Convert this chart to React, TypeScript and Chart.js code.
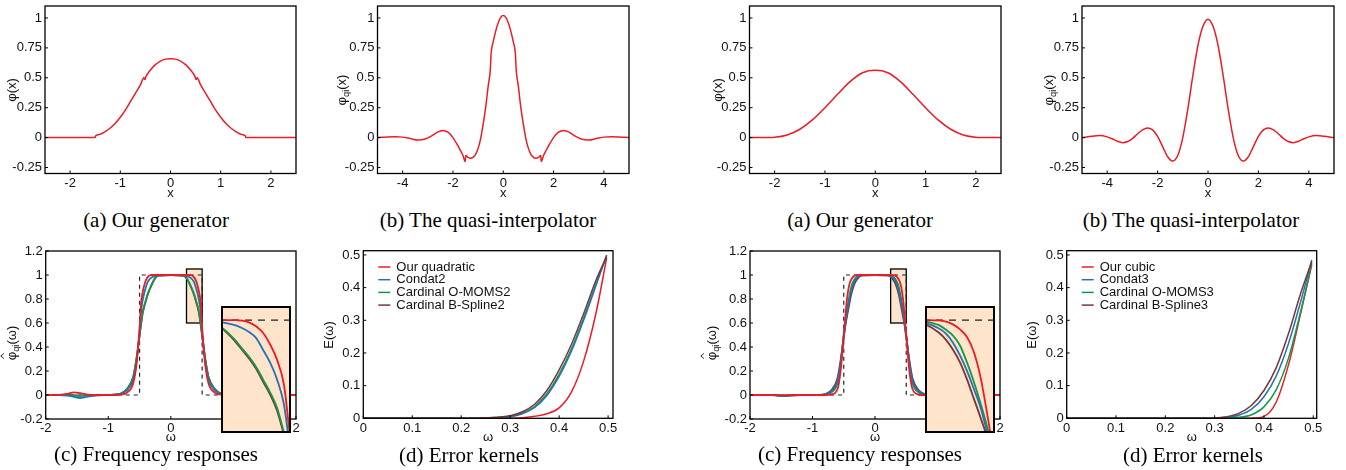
import React, { useEffect, useRef } from 'react';
import { Chart, registerables } from 'chart.js';

Chart.register(...registerables);

// ---------------- data ----------------
// (a) generators
const genQuadX = [-2.5, -1.5, -1.49, -1.4, -1.3, -1.2, -1.1, -1, -0.9, -0.8, -0.7, -0.6, -0.53, -0.51, -0.49, -0.4, -0.3, -0.2, -0.1, 0, 0.1, 0.2, 0.3, 0.4, 0.49, 0.51, 0.53, 0.6, 0.7, 0.8, 0.9, 1, 1.1, 1.2, 1.3, 1.4, 1.49, 1.5, 2.5];
const genQuadY = [0, 0, 0.015, 0.028, 0.05, 0.08, 0.12, 0.17, 0.23, 0.3, 0.37, 0.44, 0.5, 0.485, 0.51, 0.565, 0.61, 0.64, 0.656, 0.66, 0.656, 0.64, 0.61, 0.565, 0.51, 0.485, 0.5, 0.44, 0.37, 0.3, 0.23, 0.17, 0.12, 0.08, 0.05, 0.028, 0.015, 0, 0];

const genCubicX = [-2.5, -2.25, -2, -1.75, -1.5, -1.25, -1, -0.75, -0.5, -0.25, 0, 0.25, 0.5, 0.75, 1, 1.25, 1.5, 1.75, 2, 2.25, 2.5];
const genCubicY = [0, 0, 0.003, 0.022, 0.07, 0.148, 0.25, 0.362, 0.468, 0.542, 0.562, 0.542, 0.468, 0.362, 0.25, 0.148, 0.07, 0.022, 0.003, 0, 0];

// (b) quasi-interpolators
const qiQuadX = [-5, -4.6, -4.3, -4, -3.7, -3.4, -3.1, -2.8, -2.6, -2.5, -2.4, -2.2, -2, -1.8, -1.6, -1.51, -1.49, -1.4, -1.3, -1.2, -1.1, -1, -0.9, -0.8, -0.7, -0.6, -0.51, -0.49, -0.4, -0.3, -0.2, -0.1, 0, 0.1, 0.2, 0.3, 0.4, 0.49, 0.51, 0.6, 0.7, 0.8, 0.9, 1, 1.1, 1.2, 1.3, 1.4, 1.49, 1.51, 1.6, 1.8, 2, 2.2, 2.4, 2.5, 2.6, 2.8, 3.1, 3.4, 3.7, 4, 4.3, 4.6, 5];
const qiQuadY = [0, 0.006, 0.008, 0.004, -0.008, -0.02, -0.012, 0.02, 0.048, 0.055, 0.06, 0.045, 0, -0.07, -0.15, -0.2, -0.15, -0.165, -0.172, -0.165, -0.14, -0.09, -0.01, 0.11, 0.25, 0.43, 0.58, 0.68, 0.8, 0.89, 0.96, 1.005, 1.02, 1.005, 0.96, 0.89, 0.8, 0.68, 0.58, 0.43, 0.25, 0.11, -0.01, -0.09, -0.14, -0.165, -0.172, -0.165, -0.15, -0.2, -0.15, -0.07, 0, 0.045, 0.06, 0.055, 0.048, 0.02, -0.012, -0.02, -0.008, 0.004, 0.008, 0.006, 0];

const qiCubicX = [-5, -4.6, -4.3, -4, -3.8, -3.6, -3.4, -3.2, -3, -2.8, -2.6, -2.4, -2.2, -2, -1.8, -1.6, -1.4, -1.2, -1, -0.8, -0.6, -0.4, -0.2, 0, 0.2, 0.4, 0.6, 0.8, 1, 1.2, 1.4, 1.6, 1.8, 2, 2.2, 2.4, 2.6, 2.8, 3, 3.2, 3.4, 3.6, 3.8, 4, 4.3, 4.6, 5];
const qiCubicY = [0, 0.011, 0.017, 0.006, -0.01, -0.03, -0.042, -0.035, -0.008, 0.03, 0.065, 0.08, 0.065, 0.01, -0.075, -0.16, -0.195, -0.15, 0, 0.24, 0.52, 0.77, 0.93, 0.99, 0.93, 0.77, 0.52, 0.24, 0, -0.15, -0.195, -0.16, -0.075, 0.01, 0.065, 0.08, 0.065, 0.03, -0.008, -0.035, -0.042, -0.03, -0.01, 0.006, 0.017, 0.011, 0];

// (c) frequency responses
const freqW = [-2, -1.8, -1.65, -1.55, -1.45, -1.35, -1.2, -1, -0.9, -0.8, -0.7, -0.6, -0.55, -0.5, -0.475, -0.45, -0.425, -0.4, -0.375, -0.35, -0.325, -0.3, -0.25, -0.2, 0, 0.2, 0.25, 0.3, 0.325, 0.35, 0.375, 0.4, 0.425, 0.45, 0.475, 0.5, 0.55, 0.6, 0.7, 0.8, 0.9, 1, 1.2, 1.35, 1.45, 1.55, 1.65, 1.8, 2];
const freqQuadOurs = [0, 0, 0.01, 0.022, 0.015, 0.005, 0, 0, 0, 0.003, 0.02, 0.1, 0.25, 0.56, 0.77, 0.86, 0.915, 0.955, 0.978, 0.992, 0.998, 1, 1, 1, 1, 1, 1, 1, 0.998, 0.992, 0.978, 0.955, 0.915, 0.86, 0.77, 0.56, 0.25, 0.1, 0.02, 0.003, 0, 0, 0, 0.005, 0.015, 0.022, 0.01, 0, 0];
const freqQuadCondat = [0, 0, -0.005, -0.015, -0.025, -0.015, -0.005, 0, 0.002, 0.01, 0.04, 0.13, 0.27, 0.52, 0.7, 0.79, 0.85, 0.895, 0.937, 0.958, 0.972, 0.982, 0.993, 0.998, 1, 0.998, 0.993, 0.982, 0.972, 0.958, 0.937, 0.895, 0.85, 0.79, 0.7, 0.52, 0.27, 0.13, 0.04, 0.01, 0.002, 0, -0.005, -0.015, -0.025, -0.015, -0.005, 0, 0];
const freqQuadOmoms = [0, 0, 0, -0.004, -0.008, -0.004, 0, 0, 0.003, 0.012, 0.05, 0.15, 0.3, 0.5, 0.6, 0.69, 0.745, 0.79, 0.835, 0.87, 0.9, 0.93, 0.976, 0.995, 1, 0.995, 0.976, 0.93, 0.9, 0.87, 0.835, 0.79, 0.745, 0.69, 0.6, 0.5, 0.3, 0.15, 0.05, 0.012, 0.003, 0, 0, -0.004, -0.008, -0.004, 0, 0, 0];
const freqQuadBspline = [0, 0, 0, -0.003, -0.006, -0.003, 0, 0, 0.003, 0.013, 0.052, 0.155, 0.3, 0.49, 0.592, 0.68, 0.737, 0.782, 0.828, 0.864, 0.895, 0.925, 0.973, 0.994, 1, 0.994, 0.973, 0.925, 0.895, 0.864, 0.828, 0.782, 0.737, 0.68, 0.592, 0.49, 0.3, 0.155, 0.052, 0.013, 0.003, 0, 0, -0.003, -0.006, -0.003, 0, 0, 0];

const freqCubicOurs = [0, 0, 0, -0.002, -0.003, 0, 0, 0, 0, 0, 0.004, 0.05, 0.2, 0.5, 0.65, 0.79, 0.885, 0.94, 0.967, 0.985, 0.995, 0.999, 1, 1, 1, 1, 1, 0.999, 0.995, 0.985, 0.967, 0.94, 0.885, 0.79, 0.65, 0.5, 0.2, 0.05, 0.004, 0, 0, 0, 0, 0, -0.003, -0.002, 0, 0, 0];
const freqCubicCondat = [0, 0, 0, -0.004, -0.008, -0.003, 0, 0, 0.001, 0.005, 0.03, 0.12, 0.27, 0.49, 0.59, 0.685, 0.755, 0.82, 0.875, 0.92, 0.952, 0.97, 0.99, 0.998, 1, 0.998, 0.99, 0.97, 0.952, 0.92, 0.875, 0.82, 0.755, 0.685, 0.59, 0.49, 0.27, 0.12, 0.03, 0.005, 0.001, 0, 0, -0.003, -0.008, -0.004, 0, 0, 0];
const freqCubicOmoms = [0, 0, 0, -0.002, -0.004, 0, 0, 0, 0, 0.003, 0.02, 0.1, 0.25, 0.5, 0.61, 0.7, 0.78, 0.85, 0.91, 0.945, 0.966, 0.982, 0.995, 0.999, 1, 0.999, 0.995, 0.982, 0.966, 0.945, 0.91, 0.85, 0.78, 0.7, 0.61, 0.5, 0.25, 0.1, 0.02, 0.003, 0, 0, 0, 0, -0.004, -0.002, 0, 0, 0];
const freqCubicBspline = [0, 0, 0, -0.005, -0.01, -0.004, 0, 0, 0.001, 0.008, 0.04, 0.14, 0.29, 0.48, 0.575, 0.65, 0.72, 0.79, 0.85, 0.895, 0.93, 0.955, 0.985, 0.997, 1, 0.997, 0.985, 0.955, 0.93, 0.895, 0.85, 0.79, 0.72, 0.65, 0.575, 0.48, 0.29, 0.14, 0.04, 0.008, 0.001, 0, 0, -0.004, -0.01, -0.005, 0, 0, 0];

const idealW = [-2, -0.5, -0.5, 0.5, 0.5, 2];
const idealH = [0, 0, 1, 1, 0, 0];

// (d) error kernels
const errW = [0, 0.1, 0.2, 0.25, 0.3, 0.325, 0.35, 0.375, 0.4, 0.425, 0.45, 0.475, 0.497];
const errQuadOurs = [0, 0, 0, 0, 0.0005, 0.002, 0.006, 0.014, 0.032, 0.08, 0.175, 0.32, 0.49];
const errQuadCondat = [0, 0, 0, 0.001, 0.005, 0.014, 0.033, 0.07, 0.128, 0.205, 0.3, 0.405, 0.5];
const errQuadOmoms = [0, 0, 0, 0.001, 0.006, 0.016, 0.036, 0.075, 0.135, 0.212, 0.307, 0.41, 0.498];
const errQuadBspline = [0, 0, 0, 0.002, 0.008, 0.02, 0.043, 0.085, 0.148, 0.226, 0.32, 0.422, 0.495];
const errCubicOurs = [0, 0, 0, 0, 0, 0, 0, 0.0005, 0.006, 0.05, 0.165, 0.325, 0.47];
const errCubicCondat = [0, 0, 0, 0, 0.001, 0.003, 0.01, 0.028, 0.066, 0.13, 0.23, 0.36, 0.485];
const errCubicOmoms = [0, 0, 0, 0, 0, 0.001, 0.003, 0.011, 0.035, 0.088, 0.185, 0.33, 0.475];
const errCubicBspline = [0, 0, 0, 0, 0.001, 0.005, 0.016, 0.04, 0.085, 0.155, 0.26, 0.385, 0.48];

const quadLegend = ['Our quadratic', 'Condat2', 'Cardinal O-MOMS2', 'Cardinal B-Spline2'];
const cubicLegend = ['Our cubic', 'Condat3', 'Cardinal O-MOMS3', 'Cardinal B-Spline3'];

// ticks
const yTicksPhi = [-0.25, 0, 0.25, 0.5, 0.75, 1];
const xTicksGen = [-2, -1, 0, 1, 2];
const xTicksQi = [-4, -2, 0, 2, 4];
const yTicksFreq = [-0.2, 0, 0.2, 0.4, 0.6, 0.8, 1, 1.2];
const xTicksFreq = [-2, -1, 0, 1, 2];
const yTicksErr = [0, 0.1, 0.2, 0.3, 0.4, 0.5];
const xTicksErr = [0, 0.1, 0.2, 0.3, 0.4, 0.5];

const captionsTop = ['(a) Our generator', '(b) The quasi-interpolator', '(a) Our generator', '(b) The quasi-interpolator'];
const captionsBottom = ['(c) Frequency responses', '(d) Error kernels', '(c) Frequency responses', '(d) Error kernels'];

// ---------------- styles ----------------
const FONT = "'Liberation Sans', Arial, Helvetica, sans-serif";
const SERIF = "'Liberation Serif', 'Times New Roman', serif";
const TEXT = '#111';
const RED = '#ec1c24';
const BLUE = '#2372b6';
const GREEN = '#129a48';
const BROWN = '#7d3434';
const PEACH = '#fde4ca';
const LEGEND_COLORS = [RED, BLUE, GREEN, BROWN];

Chart.defaults.font.family = FONT;

type Seg = { t: string; sub?: boolean; hat?: boolean };
type Rect = { l: number; t: number; w: number; h: number };
type Area = { l: number; r: number; t: number; b: number };

const pts = (xs: number[], ys: number[]) => xs.map((x, i) => ({ x, y: ys[i] }));
const curve = (xs: number[], ys: number[], color: string, width: number, order: number) => ({
  data: pts(xs, ys),
  borderColor: color,
  backgroundColor: color,
  borderWidth: width,
  pointRadius: 0,
  fill: false,
  cubicInterpolationMode: 'monotone',
  order,
});
const ideal = (width: number, dash: number[]) => ({
  data: pts(idealW, idealH),
  borderColor: '#222',
  borderWidth: width,
  borderDash: dash,
  pointRadius: 0,
  fill: false,
  tension: 0,
  order: 10,
});

const freqSets = (o: number[], c: number[], m: number[], b: number[], w: number, dash: number[]) => [
  ideal(1.2, dash),
  curve(freqW, b, BROWN, w, 4),
  curve(freqW, m, GREEN, w, 3),
  curve(freqW, c, BLUE, w, 2),
  curve(freqW, o, RED, w, 1),
];
const errSets = (o: number[], c: number[], m: number[], b: number[]) => [
  curve(errW, o, RED, 1.5, 4),
  curve(errW, m, GREEN, 1.5, 3),
  curve(errW, c, BLUE, 1.5, 2),
  curve(errW, b, BROWN, 1.5, 1),
];

const segPhi: Seg[] = [{ t: 'φ' }, { t: '(x)' }];
const segPhiQi: Seg[] = [{ t: 'φ' }, { t: 'qi', sub: true }, { t: '(x)' }];
const segPhiHatQi: Seg[] = [{ t: 'φ', hat: true }, { t: 'qi', sub: true }, { t: '(ω)' }];
const segE: Seg[] = [{ t: 'E(ω)' }];
const segX: Seg[] = [{ t: 'x' }];
const segW: Seg[] = [{ t: 'ω' }];

interface Spec {
  key: string;
  canvas: Rect;
  area: Area;
  x: { min: number; max: number; ticks: number[] };
  y: { min: number; max: number; ticks: number[] };
  xTitle: Seg[];
  xTitleY: number;
  yTitle: Seg[];
  yTitleX: number;
  yTitleY: number;
  datasets: any[];
  box?: boolean;
  legend?: string[];
}

const TOP = { t: 0, h: 205 };
const BOT = { t: 235, h: 235 };

const specs: Spec[] = [
  {
    key: 'a1', canvas: { l: 0, t: TOP.t, w: 320, h: TOP.h }, area: { l: 45, r: 296, t: 6, b: 173.5 },
    x: { min: -2.5, max: 2.5, ticks: xTicksGen }, y: { min: -0.3, max: 1.1, ticks: yTicksPhi },
    xTitle: segX, xTitleY: 193, yTitle: segPhi, yTitleX: 12, yTitleY: 90,
    datasets: [curve(genQuadX, genQuadY, RED, 1.5, 1)],
  },
  {
    key: 'b1', canvas: { l: 325, t: TOP.t, w: 325, h: TOP.h }, area: { l: 377.5, r: 629, t: 6, b: 173.5 },
    x: { min: -5, max: 5, ticks: xTicksQi }, y: { min: -0.3, max: 1.1, ticks: yTicksPhi },
    xTitle: segX, xTitleY: 193, yTitle: segPhiQi, yTitleX: 342, yTitleY: 90,
    datasets: [curve(qiQuadX, qiQuadY, RED, 1.5, 1)],
  },
  {
    key: 'a2', canvas: { l: 665, t: TOP.t, w: 355, h: TOP.h }, area: { l: 749.5, r: 1001, t: 6, b: 173.5 },
    x: { min: -2.5, max: 2.5, ticks: xTicksGen }, y: { min: -0.3, max: 1.1, ticks: yTicksPhi },
    xTitle: segX, xTitleY: 193, yTitle: segPhi, yTitleX: 718, yTitleY: 90,
    datasets: [curve(genCubicX, genCubicY, RED, 1.5, 1)],
  },
  {
    key: 'b2', canvas: { l: 1020, t: TOP.t, w: 326, h: TOP.h }, area: { l: 1082, r: 1334, t: 6, b: 173.5 },
    x: { min: -5, max: 5, ticks: xTicksQi }, y: { min: -0.3, max: 1.1, ticks: yTicksPhi },
    xTitle: segX, xTitleY: 193, yTitle: segPhiQi, yTitleX: 1049, yTitleY: 90,
    datasets: [curve(qiCubicX, qiCubicY, RED, 1.5, 1)],
  },
  {
    key: 'c1', canvas: { l: 0, t: BOT.t, w: 320, h: BOT.h }, area: { l: 45.7, r: 296, t: 251, b: 419 },
    x: { min: -2, max: 2, ticks: xTicksFreq }, y: { min: -0.2, max: 1.2, ticks: yTicksFreq },
    xTitle: segW, xTitleY: 437, yTitle: segPhiHatQi, yTitleX: 12, yTitleY: 343,
    datasets: freqSets(freqQuadOurs, freqQuadCondat, freqQuadOmoms, freqQuadBspline, 1.8, [4, 4]), box: true,
  },
  {
    key: 'd1', canvas: { l: 320, t: BOT.t, w: 330, h: BOT.h }, area: { l: 363.3, r: 613, t: 250.7, b: 418.3 },
    x: { min: 0, max: 0.51, ticks: xTicksErr }, y: { min: 0, max: 0.513, ticks: yTicksErr },
    xTitle: segW, xTitleY: 437, yTitle: segE, yTitleX: 329, yTitleY: 335,
    datasets: errSets(errQuadOurs, errQuadCondat, errQuadOmoms, errQuadBspline), legend: quadLegend,
  },
  {
    key: 'c2', canvas: { l: 665, t: BOT.t, w: 355, h: BOT.h }, area: { l: 750, r: 1000, t: 251, b: 419 },
    x: { min: -2, max: 2, ticks: xTicksFreq }, y: { min: -0.2, max: 1.2, ticks: yTicksFreq },
    xTitle: segW, xTitleY: 437, yTitle: segPhiHatQi, yTitleX: 712, yTitleY: 343,
    datasets: freqSets(freqCubicOurs, freqCubicCondat, freqCubicOmoms, freqCubicBspline, 1.8, [4, 4]), box: true,
  },
  {
    key: 'd2', canvas: { l: 1020, t: BOT.t, w: 326, h: BOT.h }, area: { l: 1066.7, r: 1316.7, t: 250.7, b: 418.3 },
    x: { min: 0, max: 0.507, ticks: xTicksErr }, y: { min: 0, max: 0.513, ticks: yTicksErr },
    xTitle: segW, xTitleY: 437, yTitle: segE, yTitleX: 1032, yTitleY: 335,
    datasets: errSets(errCubicOurs, errCubicCondat, errCubicOmoms, errCubicBspline), legend: cubicLegend,
  },
];

const insets = [
  { key: 'i1', canvas: { l: 221, t: 306, w: 70, h: 127 }, datasets: freqSets(freqQuadOurs, freqQuadCondat, freqQuadOmoms, freqQuadBspline, 1.8, [7, 6]) },
  { key: 'i2', canvas: { l: 925, t: 306, w: 70, h: 127 }, datasets: freqSets(freqCubicOurs, freqCubicCondat, freqCubicOmoms, freqCubicBspline, 1.8, [7, 6]) },
];
const INSET_X = { min: 0.25, max: 0.5 };
const INSET_Y = { min: 0.6, max: 1.05 };

const captionPos = {
  top: [[156, 221], [488, 221], [860, 221], [1191, 221]],
  bottom: [[156, 455], [469, 456], [860, 455], [1193, 456]],
};

// ---------------- drawing helpers ----------------
function drawRich(ctx: CanvasRenderingContext2D, segs: Seg[], cx: number, cy: number, vertical: boolean, size: number) {
  ctx.save();
  ctx.translate(cx, cy);
  if (vertical) ctx.rotate(-Math.PI / 2);
  const sizes = segs.map((s) => (s.sub ? size * 0.72 : size));
  const widths = segs.map((s, i) => {
    ctx.font = `${sizes[i]}px ${FONT}`;
    return ctx.measureText(s.t).width;
  });
  const total = widths.reduce((a, b) => a + b, 0);
  let x = -total / 2;
  ctx.fillStyle = TEXT;
  ctx.strokeStyle = TEXT;
  ctx.textBaseline = 'middle';
  ctx.textAlign = 'left';
  segs.forEach((s, i) => {
    ctx.font = `${sizes[i]}px ${FONT}`;
    ctx.fillText(s.t, x, s.sub ? size * 0.32 : 0);
    if (s.hat) {
      ctx.lineWidth = 0.9;
      ctx.beginPath();
      ctx.moveTo(x + widths[i] * 0.2, -size * 0.62);
      ctx.lineTo(x + widths[i] * 0.5, -size * 0.86);
      ctx.lineTo(x + widths[i] * 0.8, -size * 0.62);
      ctx.stroke();
    }
    x += widths[i];
  });
  ctx.restore();
}

const fmt = (v: any) => String(Math.round(Number(v) * 1000) / 1000);

function decor(spec: Spec) {
  return {
    id: 'decor',
    beforeDatasetsDraw(chart: any) {
      if (!spec.box) return;
      const { ctx, scales } = chart;
      const x0 = scales.x.getPixelForValue(INSET_X.min);
      const x1 = scales.x.getPixelForValue(INSET_X.max);
      const y0 = scales.y.getPixelForValue(INSET_Y.max);
      const y1 = scales.y.getPixelForValue(INSET_Y.min);
      ctx.save();
      ctx.fillStyle = PEACH;
      ctx.fillRect(x0, y0, x1 - x0, y1 - y0);
      ctx.strokeStyle = '#000';
      ctx.lineWidth = 1.3;
      ctx.strokeRect(x0, y0, x1 - x0, y1 - y0);
      ctx.restore();
    },
    afterDraw(chart: any) {
      const { ctx, chartArea: a, scales } = chart;
      ctx.save();
      ctx.strokeStyle = '#000';
      ctx.lineWidth = 1.3;
      ctx.strokeRect(a.left, a.top, a.right - a.left, a.bottom - a.top);
      ctx.lineWidth = 1;
      ctx.beginPath();
      spec.x.ticks.forEach((v) => {
        const px = scales.x.getPixelForValue(v);
        ctx.moveTo(px, a.bottom);
        ctx.lineTo(px, a.bottom - 3);
      });
      spec.y.ticks.forEach((v) => {
        const py = scales.y.getPixelForValue(v);
        ctx.moveTo(a.left, py);
        ctx.lineTo(a.left + 3, py);
      });
      ctx.stroke();
      const cl = spec.canvas.l;
      const ct = spec.canvas.t;
      drawRich(ctx, spec.xTitle, (spec.area.l + spec.area.r) / 2 - cl, spec.xTitleY - ct, false, 13);
      drawRich(ctx, spec.yTitle, spec.yTitleX - cl, spec.yTitleY - ct, true, 13);
      if (spec.legend) {
        spec.legend.forEach((label, i) => {
          const y = a.top + 16.3 + i * 12.7;
          ctx.strokeStyle = LEGEND_COLORS[i];
          ctx.lineWidth = 1.5;
          ctx.beginPath();
          ctx.moveTo(a.left + 15, y);
          ctx.lineTo(a.left + 27, y);
          ctx.stroke();
          ctx.fillStyle = TEXT;
          ctx.font = `13px ${FONT}`;
          ctx.textBaseline = 'middle';
          ctx.textAlign = 'left';
          ctx.fillText(label, a.left + 33, y);
        });
      }
      ctx.restore();
    },
  };
}

function buildConfig(spec: Spec): any {
  const c = spec.canvas;
  const ar = spec.area;
  const tickFont = { size: 13, family: FONT };
  return {
    type: 'line',
    data: { datasets: spec.datasets },
    options: {
      animation: false,
      responsive: false,
      devicePixelRatio: 1,
      events: [],
      layout: { padding: { left: 0, top: ar.t - c.t, right: c.l + c.w - ar.r, bottom: 0 } },
      plugins: { legend: { display: false }, tooltip: { enabled: false }, title: { display: false } },
      scales: {
        x: {
          type: 'linear',
          min: spec.x.min,
          max: spec.x.max,
          afterBuildTicks: (s: any) => {
            s.ticks = spec.x.ticks.map((v) => ({ value: v }));
          },
          afterFit: (s: any) => {
            s.height = c.t + c.h - ar.b;
            s.paddingLeft = 0;
            s.paddingRight = 0;
            s.paddingTop = 0;
            s.paddingBottom = 0;
          },
          grid: { display: false, drawTicks: false },
          border: { display: false },
          ticks: { autoSkip: false, maxRotation: 0, minRotation: 0, padding: 2, color: TEXT, font: tickFont, callback: fmt },
        },
        y: {
          type: 'linear',
          min: spec.y.min,
          max: spec.y.max,
          afterBuildTicks: (s: any) => {
            s.ticks = spec.y.ticks.map((v) => ({ value: v }));
          },
          afterFit: (s: any) => {
            s.width = ar.l - c.l;
            s.paddingLeft = 0;
            s.paddingRight = 0;
            s.paddingTop = 0;
            s.paddingBottom = 0;
          },
          grid: { display: false, drawTicks: false },
          border: { display: false },
          ticks: { autoSkip: false, padding: 3, color: TEXT, font: tickFont, callback: fmt },
        },
      },
    },
    plugins: [decor(spec)],
  };
}

function Panel({ spec }: { spec: Spec }) {
  const ref = useRef<HTMLCanvasElement>(null);
  useEffect(() => {
    const chart = new Chart(ref.current as HTMLCanvasElement, buildConfig(spec));
    return () => chart.destroy();
  }, [spec]);
  const c = spec.canvas;
  return (
    <canvas
      ref={ref}
      width={c.w}
      height={c.h}
      style={{ position: 'absolute', left: c.l, top: c.t, width: c.w, height: c.h }}
    />
  );
}

function Inset({ inset }: { inset: { key: string; canvas: Rect; datasets: any[] } }) {
  const ref = useRef<HTMLCanvasElement>(null);
  useEffect(() => {
    const chart = new Chart(ref.current as HTMLCanvasElement, {
      type: 'line',
      data: { datasets: inset.datasets },
      options: {
        animation: false,
        responsive: false,
        devicePixelRatio: 1,
        events: [],
        layout: { padding: 0 },
        plugins: { legend: { display: false }, tooltip: { enabled: false } },
        scales: {
          x: { type: 'linear', display: false, min: INSET_X.min, max: INSET_X.max },
          y: { type: 'linear', display: false, min: INSET_Y.min, max: INSET_Y.max },
        },
      },
      plugins: [
        {
          id: 'insetFrame',
          beforeDraw(ch: any) {
            const { ctx, width, height } = ch;
            ctx.save();
            ctx.fillStyle = PEACH;
            ctx.fillRect(0, 0, width, height);
            ctx.restore();
          },
          afterDraw(ch: any) {
            const { ctx, width, height } = ch;
            ctx.save();
            ctx.strokeStyle = '#000';
            ctx.lineWidth = 2;
            ctx.strokeRect(1, 1, width - 2, height - 2);
            ctx.restore();
          },
        },
      ],
    } as any);
    return () => chart.destroy();
  }, [inset]);
  const c = inset.canvas;
  return (
    <canvas
      ref={ref}
      width={c.w}
      height={c.h}
      style={{ position: 'absolute', left: c.l, top: c.t, width: c.w, height: c.h, zIndex: 2 }}
    />
  );
}

function Caption({ text, x, y }: { text: string; x: number; y: number }) {
  return (
    <div
      style={{
        position: 'absolute',
        left: x,
        top: y - 11,
        transform: 'translateX(-50%)',
        whiteSpace: 'nowrap',
        fontFamily: SERIF,
        fontSize: 21,
        lineHeight: '21px',
        color: '#000',
        zIndex: 3,
      }}
    >
      {text}
    </div>
  );
}

export default function App() {
  return (
    <div style={{ position: 'absolute', left: 0, top: 0, width: 1346, height: 470, background: '#fff', overflow: 'hidden' }}>
      {specs.map((s) => (
        <Panel key={s.key} spec={s} />
      ))}
      {insets.map((i) => (
        <Inset key={i.key} inset={i} />
      ))}
      {captionsTop.map((t, i) => (
        <Caption key={'t' + i} text={t} x={captionPos.top[i][0]} y={captionPos.top[i][1]} />
      ))}
      {captionsBottom.map((t, i) => (
        <Caption key={'b' + i} text={t} x={captionPos.bottom[i][0]} y={captionPos.bottom[i][1]} />
      ))}
    </div>
  );
}
